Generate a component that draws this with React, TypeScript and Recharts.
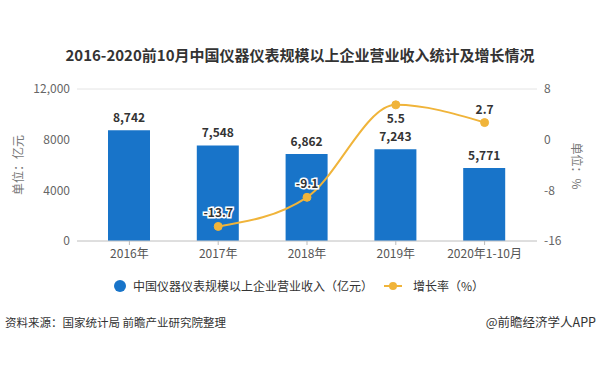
import React from 'react';
import { ComposedChart, Bar, Line, XAxis, YAxis, CartesianGrid, LabelList } from 'recharts';

const categories = ['2016年', '2017年', '2018年', '2019年', '2020年1-10月'];
const revenue = [8742, 7548, 6862, 7243, 5771];
const growth: (number | null)[] = [null, -13.7, -9.1, 5.5, 2.7];
const leftTicks = [0, 4000, 8000, 12000];
const rightTicks = [-16, -8, 0, 8];
const growthLabelSide = ['top', 'top', 'top', 'bottom', 'top'];

const data = categories.map((c, i) => ({ name: c, revenue: revenue[i], growth: growth[i] }));

const BAR = '#1874C9';
const LINE = '#F0B43A';
const FONT = '"Noto Sans CJK SC", "Noto Sans", sans-serif';

const BarLabel = (props: any) => {
  const { x, y, width, value } = props;
  return (
    <text x={x + width / 2} y={y - 8} textAnchor="middle" fontSize={12} fontWeight="bold" fill="#333"
      fontFamily={FONT}>
      {Number(value).toLocaleString('en-US')}
    </text>
  );
};

const LineLabel = (props: any) => {
  const { x, y, value, index } = props;
  if (value === null || value === undefined) return null;
  const below = growthLabelSide[index] === 'bottom';
  return (
    <text x={x} y={below ? y + 18 : y - 9} textAnchor="middle" fontSize={12} fontWeight="bold" fill="#333"
      stroke="#fff" strokeWidth={3} paintOrder="stroke" fontFamily={FONT}>
      {value}
    </text>
  );
};

export default function App() {
  return (
    <div style={{ position: 'absolute', left: 0, top: 0, width: 600, height: 377, background: '#fff', overflow: 'hidden', fontFamily: FONT }}>
      <div style={{ position: 'absolute', left: 0, top: 44, width: 600, textAlign: 'center', fontSize: 15, fontWeight: 'bold', color: '#333', lineHeight: '22px' }}>
        2016-2020前10月中国仪器仪表规模以上企业营业收入统计及增长情况
      </div>
      <ComposedChart width={600} height={377} data={data} margin={{ top: 89, right: 0, bottom: 106, left: 0 }}>
        <CartesianGrid vertical={false} stroke="#e4e4e4" />
        <XAxis dataKey="name" height={30} padding={{ left: 8, right: 8 }} axisLine={{ stroke: '#ccc' }}
          tickLine={{ stroke: '#bbb' }} tickSize={4} tickMargin={4}
          tick={{ fontSize: 12, fill: '#555', fontFamily: FONT }} interval={0} />
        <YAxis yAxisId="left" width={77} domain={[0, 12000]} ticks={leftTicks} axisLine={false} tickLine={false}
          tickSize={0} tickMargin={7} tick={{ fontSize: 12, fill: '#666', fontFamily: FONT }}
          tickFormatter={(v: number) => (v >= 10000 ? v.toLocaleString('en-US') : String(v))} />
        <YAxis yAxisId="right" orientation="right" width={63} domain={[-16, 8]} ticks={rightTicks} axisLine={false}
          tickLine={false} tickSize={0} tickMargin={7} tick={{ fontSize: 12, fill: '#666', fontFamily: FONT }} />
        <Bar yAxisId="left" dataKey="revenue" fill={BAR} barSize={42} isAnimationActive={false}>
          <LabelList dataKey="revenue" content={BarLabel} />
        </Bar>
        <Line yAxisId="right" type="monotone" dataKey="growth" stroke={LINE} strokeWidth={2}
          dot={{ r: 4, fill: LINE, stroke: LINE, strokeWidth: 1 }} connectNulls isAnimationActive={false}>
          <LabelList dataKey="growth" content={LineLabel} />
        </Line>
      </ComposedChart>
      <div style={{ position: 'absolute', left: 17, top: 165, transform: 'translate(-50%, -50%) rotate(-90deg)', fontSize: 12, color: '#777', whiteSpace: 'nowrap' }}>
        单位：亿元
      </div>
      <div style={{ position: 'absolute', left: 577, top: 166, transform: 'translate(-50%, -50%) rotate(90deg)', fontSize: 12, color: '#777', whiteSpace: 'nowrap' }}>
        单位：%
      </div>
      <div style={{ position: 'absolute', left: 114, top: 280, width: 12, height: 12, borderRadius: 6, background: BAR }} />
      <div style={{ position: 'absolute', left: 133, top: 277, fontSize: 12, color: '#333', lineHeight: '18px', whiteSpace: 'nowrap' }}>
        中国仪器仪表规模以上企业营业收入（亿元）
      </div>
      <div style={{ position: 'absolute', left: 384, top: 285, width: 18, height: 2, background: LINE }} />
      <div style={{ position: 'absolute', left: 389, top: 282, width: 8, height: 8, borderRadius: 4, background: LINE }} />
      <div style={{ position: 'absolute', left: 413, top: 277, fontSize: 12, color: '#333', lineHeight: '18px', whiteSpace: 'nowrap' }}>
        增长率（%）
      </div>
      <div style={{ position: 'absolute', left: 5, top: 313, fontSize: 11.5, color: '#333', lineHeight: '18px', whiteSpace: 'nowrap' }}>
        资料来源：国家统计局 前瞻产业研究院整理
      </div>
      <div style={{ position: 'absolute', right: 4, top: 313, fontSize: 12.5, color: '#333', lineHeight: '18px', whiteSpace: 'nowrap' }}>
        @前瞻经济学人APP
      </div>
    </div>
  );
}
